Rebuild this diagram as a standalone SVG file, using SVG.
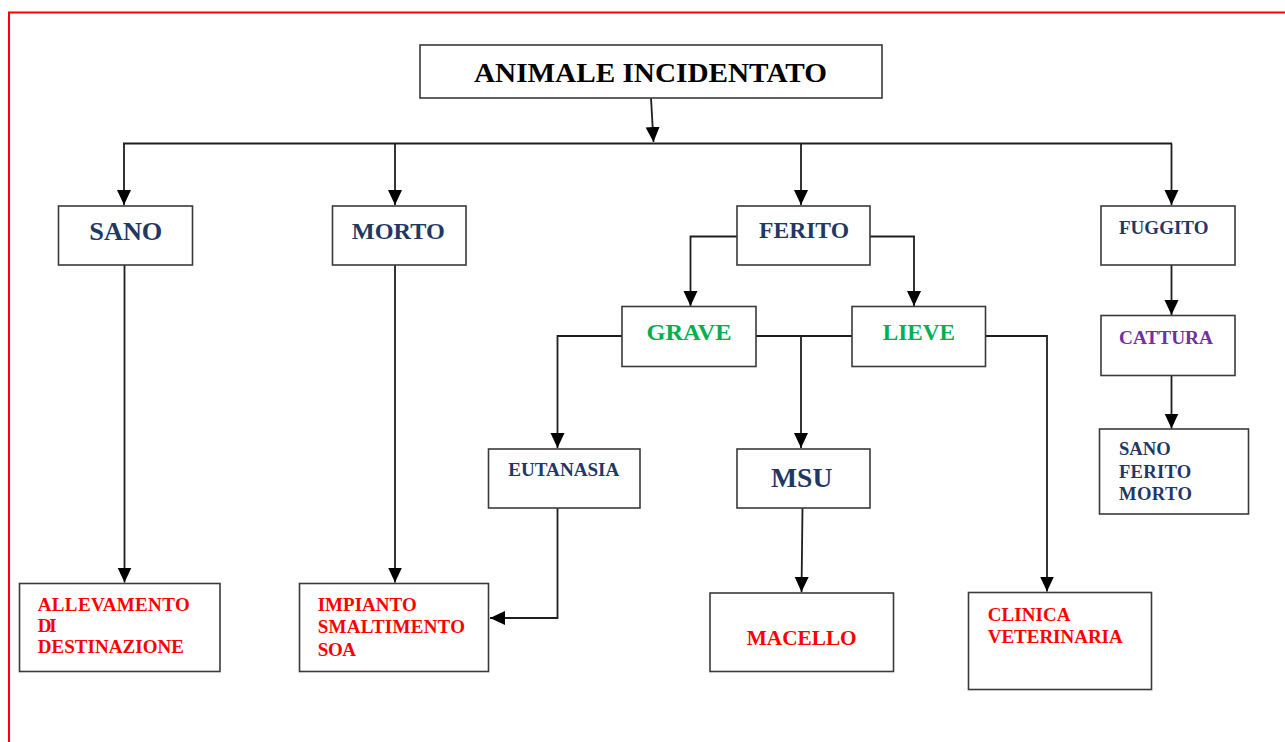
<svg xmlns="http://www.w3.org/2000/svg" width="1285" height="742" viewBox="0 0 1285 742">
  <style>
    .box { fill: #ffffff; stroke: #3a3a3a; stroke-width: 1.6; }
    .wire { fill: none; stroke: #1e1e1e; stroke-width: 1.8; }
    .t { font-family: "Liberation Serif", "Times New Roman", serif; font-weight: bold; }
    .navy { fill: #1f3864; }
    .green { fill: #00b050; }
    .red { fill: #ff0000; }
    .purple { fill: #7030a0; }
    .mid { text-anchor: middle; }
  </style>
  <defs>
    <marker id="arrow" markerUnits="userSpaceOnUse" markerWidth="18" markerHeight="18" refX="15" refY="7" orient="auto">
      <path d="M0,0 L15,7 L0,14 z" fill="#000000"/>
    </marker>
  </defs>

  <!-- page frame -->
  <path d="M9,745 V12.5 H1290" fill="none" stroke="#ff0000" stroke-width="2"/>

  <!-- connectors -->
  <g id="connectors">
    <path class="wire" d="M651,98 L653.5,142" marker-end="url(#arrow)"/>
    <path class="wire" d="M123,143.5 H1172"/>
    <path class="wire" d="M124,143.5 V205" marker-end="url(#arrow)"/>
    <path class="wire" d="M395,143.5 V205" marker-end="url(#arrow)"/>
    <path class="wire" d="M801,143.5 V205" marker-end="url(#arrow)"/>
    <path class="wire" d="M1171.5,143.5 V205" marker-end="url(#arrow)"/>

    <path class="wire" d="M124.5,265 V582.5" marker-end="url(#arrow)"/>
    <path class="wire" d="M395,265 V582.5" marker-end="url(#arrow)"/>

    <path class="wire" d="M737,236.5 H690.5 V306" marker-end="url(#arrow)"/>
    <path class="wire" d="M870,236.5 H914 V306" marker-end="url(#arrow)"/>

    <path class="wire" d="M622,336 H557.5 V448" marker-end="url(#arrow)"/>
    <path class="wire" d="M756,336 H852"/>
    <path class="wire" d="M801,336 V448" marker-end="url(#arrow)"/>
    <path class="wire" d="M986,336 H1047 V591.5" marker-end="url(#arrow)"/>

    <path class="wire" d="M557.5,508 V618 H490" marker-end="url(#arrow)"/>
    <path class="wire" d="M802.5,508 L801.5,592" marker-end="url(#arrow)"/>

    <path class="wire" d="M1171.5,265 V315" marker-end="url(#arrow)"/>
    <path class="wire" d="M1171.5,376 V428.5" marker-end="url(#arrow)"/>
  </g>

  <!-- nodes -->
  <g id="animale-incidentato">
    <rect class="box" x="420" y="45" width="462" height="53"/>
    <text class="t mid" x="650.5" y="82.3" font-size="28" fill="#000000" textLength="353" lengthAdjust="spacingAndGlyphs">ANIMALE INCIDENTATO</text>
  </g>
  <g id="sano">
    <rect class="box" x="58.5" y="206" width="134" height="59"/>
    <text class="t mid navy" x="125.8" y="240" font-size="26" textLength="73" lengthAdjust="spacingAndGlyphs">SANO</text>
  </g>
  <g id="morto">
    <rect class="box" x="332.5" y="206" width="133.5" height="59"/>
    <text class="t mid navy" x="398.3" y="239" font-size="24" textLength="93" lengthAdjust="spacingAndGlyphs">MORTO</text>
  </g>
  <g id="ferito">
    <rect class="box" x="737" y="206" width="133" height="59"/>
    <text class="t mid navy" x="804" y="238.3" font-size="23" textLength="90" lengthAdjust="spacingAndGlyphs">FERITO</text>
  </g>
  <g id="fuggito">
    <rect class="box" x="1101" y="206" width="134" height="59"/>
    <text class="t navy" x="1119" y="234.3" font-size="19" textLength="89.5" lengthAdjust="spacingAndGlyphs">FUGGITO</text>
  </g>
  <g id="grave">
    <rect class="box" x="622" y="306.5" width="134" height="60"/>
    <text class="t mid green" x="689" y="340" font-size="23" textLength="85" lengthAdjust="spacingAndGlyphs">GRAVE</text>
  </g>
  <g id="lieve">
    <rect class="box" x="852" y="306.5" width="133.5" height="60"/>
    <text class="t mid green" x="918.8" y="340" font-size="23" textLength="72.3" lengthAdjust="spacingAndGlyphs">LIEVE</text>
  </g>
  <g id="cattura">
    <rect class="box" x="1101" y="315.5" width="134" height="60"/>
    <text class="t purple" x="1119" y="344" font-size="19" textLength="94" lengthAdjust="spacingAndGlyphs">CATTURA</text>
  </g>
  <g id="esito-cattura">
    <rect class="box" x="1099.5" y="429" width="149" height="85"/>
    <text class="t navy" font-size="18.6" lengthAdjust="spacingAndGlyphs">
      <tspan x="1119" y="455" textLength="51.7">SANO</tspan>
      <tspan x="1119" y="478" textLength="72.3">FERITO</tspan>
      <tspan x="1119" y="500" textLength="73">MORTO</tspan>
    </text>
  </g>
  <g id="eutanasia">
    <rect class="box" x="488.5" y="449" width="151.5" height="59"/>
    <text class="t mid navy" x="563.8" y="475.7" font-size="18.8" textLength="111" lengthAdjust="spacingAndGlyphs">EUTANASIA</text>
  </g>
  <g id="msu">
    <rect class="box" x="737" y="449" width="133" height="59"/>
    <text class="t mid navy" x="801.7" y="486.7" font-size="28" textLength="61.3" lengthAdjust="spacingAndGlyphs">MSU</text>
  </g>
  <g id="allevamento">
    <rect class="box" x="19.5" y="583.5" width="200.5" height="88"/>
    <text class="t red" font-size="19" lengthAdjust="spacingAndGlyphs">
      <tspan x="37.7" y="611" textLength="152">ALLEVAMENTO</tspan>
      <tspan x="37.7" y="632" textLength="19">DI</tspan>
      <tspan x="37.7" y="653.3" textLength="146.3">DESTINAZIONE</tspan>
    </text>
  </g>
  <g id="impianto">
    <rect class="box" x="299.5" y="583.5" width="189" height="88"/>
    <text class="t red" font-size="19" lengthAdjust="spacingAndGlyphs">
      <tspan x="317.7" y="611" textLength="99">IMPIANTO</tspan>
      <tspan x="317.7" y="633.3" textLength="147.3">SMALTIMENTO</tspan>
      <tspan x="317.7" y="655.6" textLength="38.3">SOA</tspan>
    </text>
  </g>
  <g id="macello">
    <rect class="box" x="710" y="593" width="183.5" height="78.5"/>
    <text class="t mid red" x="801.7" y="645" font-size="21.3" textLength="110" lengthAdjust="spacingAndGlyphs">MACELLO</text>
  </g>
  <g id="clinica">
    <rect class="box" x="968.5" y="592.5" width="183" height="97"/>
    <text class="t red" font-size="19" lengthAdjust="spacingAndGlyphs">
      <tspan x="987.7" y="620.7" textLength="81.7">CLINICA</tspan>
      <tspan x="987.7" y="643" textLength="135">VETERINARIA</tspan>
    </text>
  </g>
</svg>
